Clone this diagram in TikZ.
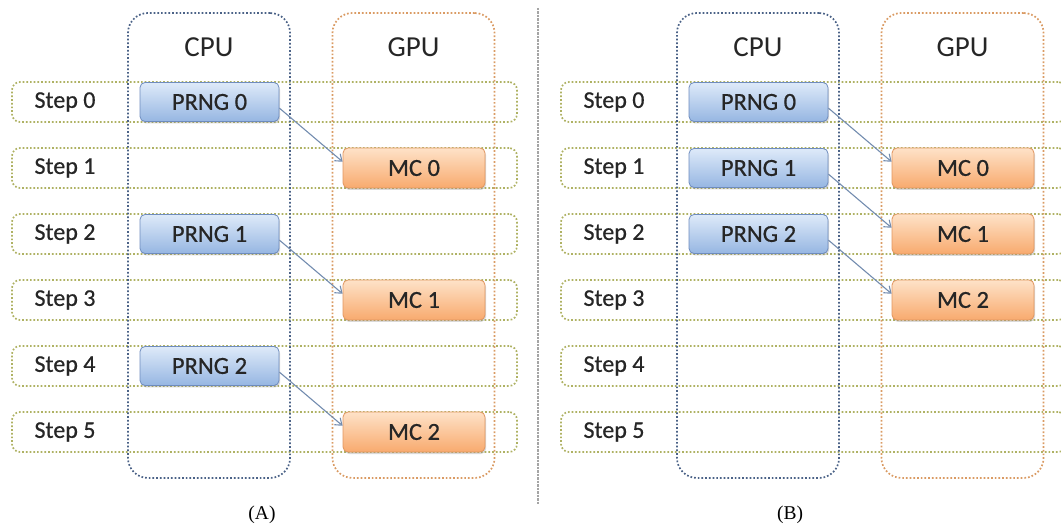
\documentclass[tikz,border=0pt]{standalone}
\usepackage{fontspec}
\setmainfont{Carlito}
\newfontfamily\thickfont{Carlito}[FakeBold=0.6]
\newfontfamily\capfont{Liberation Serif}
\usetikzlibrary{arrows.meta,shadows,calc}
\definecolor{rowc}{RGB}{175,178,100}
\definecolor{cpuc}{RGB}{75,98,135}
\definecolor{gpuc}{RGB}{218,155,100}
\definecolor{txt}{RGB}{38,38,38}
\definecolor{prngtop}{RGB}{222,234,249}
\definecolor{prngbot}{RGB}{150,182,226}
\definecolor{prngdraw}{RGB}{110,140,190}
\definecolor{mctop}{RGB}{254,226,200}
\definecolor{mcbot}{RGB}{248,170,110}
\definecolor{mcdraw}{RGB}{225,150,95}
\definecolor{arrc}{RGB}{115,140,175}
\definecolor{sepc}{RGB}{165,165,165}
\tikzset{
  rowbox/.style={draw=rowc, line width=1.7pt, dash pattern=on 1.7pt off 2pt, rounded corners=8pt,
    minimum width=505pt, minimum height=40pt, inner sep=0pt},
  colbox/.style={line width=1.7pt, dash pattern=on 1.7pt off 2pt, rounded corners=20pt,
    minimum width=162pt, minimum height=465pt, inner sep=0pt},
  steplab/.style={text=txt, font=\thickfont\fontsize{24}{26}\selectfont},
  headlab/.style={text=txt, font=\fontsize{29}{31}\selectfont},
  prng/.style={draw=prngdraw, line width=0.8pt, rounded corners=5pt, top color=prngtop, bottom color=prngbot,
    minimum width=139pt, minimum height=39pt, inner sep=0pt, text=txt, font=\thickfont\fontsize{24.5}{26}\selectfont,
    drop shadow={opacity=0.3, shadow xshift=1pt, shadow yshift=-2pt}},
  mc/.style={draw=mcdraw, line width=0.8pt, rounded corners=5pt, top color=mctop, bottom color=mcbot,
    minimum width=142pt, minimum height=40pt, inner sep=0pt, text=txt, font=\thickfont\fontsize{24.5}{26}\selectfont,
    drop shadow={opacity=0.3, shadow xshift=1pt, shadow yshift=-2pt}},
  flow/.style={draw=arrc, line width=1.1pt, -{Straight Barb[length=6pt,width=9pt]}},
  caplab/.style={font=\capfont\fontsize{19.5}{21}\selectfont, text=black}
}
\begin{document}
\begin{tikzpicture}[x=1pt,y=-1pt]
\useasboundingbox (0,0) rectangle (1061,529);
% separator
\coordinate (septop) at (538,8);
\coordinate (sepbot) at (538,505);
\draw[sepc, line width=1.5pt, dash pattern=on 2.5pt off 1pt] (septop) -- (sepbot);
\foreach \P/\dx in {A/0,B/549}{
  \foreach \i in {0,...,5}{
    \node[rowbox] (\P-row\i) at (264.5+\dx,102+66*\i) {};
    \node[steplab] (\P-step\i) at (65+\dx,102+66*\i) {Step \i};
  }
  \node[colbox, draw=cpuc] (\P-cpu) at (209+\dx,245.5) {};
  \node[colbox, draw=gpuc] (\P-gpu) at (413.5+\dx,245.5) {};
  \node[headlab] (\P-cpulab) at (209+\dx,47) {CPU};
  \node[headlab] (\P-gpulab) at (413.5+\dx,47) {GPU};
}
% Panel A
\foreach \k in {0,1,2}{
  \node[prng] (A-p\k) at (209.5,102+132*\k) {PRNG \k};
  \node[mc] (A-m\k) at (414,168+132*\k) {MC \k};
  \draw[flow] (A-p\k.-5) -- (A-m\k.175);
}
% Panel B
\foreach \k in {0,1,2}{
  \node[prng] (B-p\k) at (758.5,102+66*\k) {PRNG \k};
  \node[mc] (B-m\k) at (963,168+66*\k) {MC \k};
  \draw[flow] (B-p\k.-5) -- (B-m\k.175);
}
\node[caplab] (capA) at (262,515) {(A)};
\node[caplab] (capB) at (790,515) {(B)};
\end{tikzpicture}
\end{document}
